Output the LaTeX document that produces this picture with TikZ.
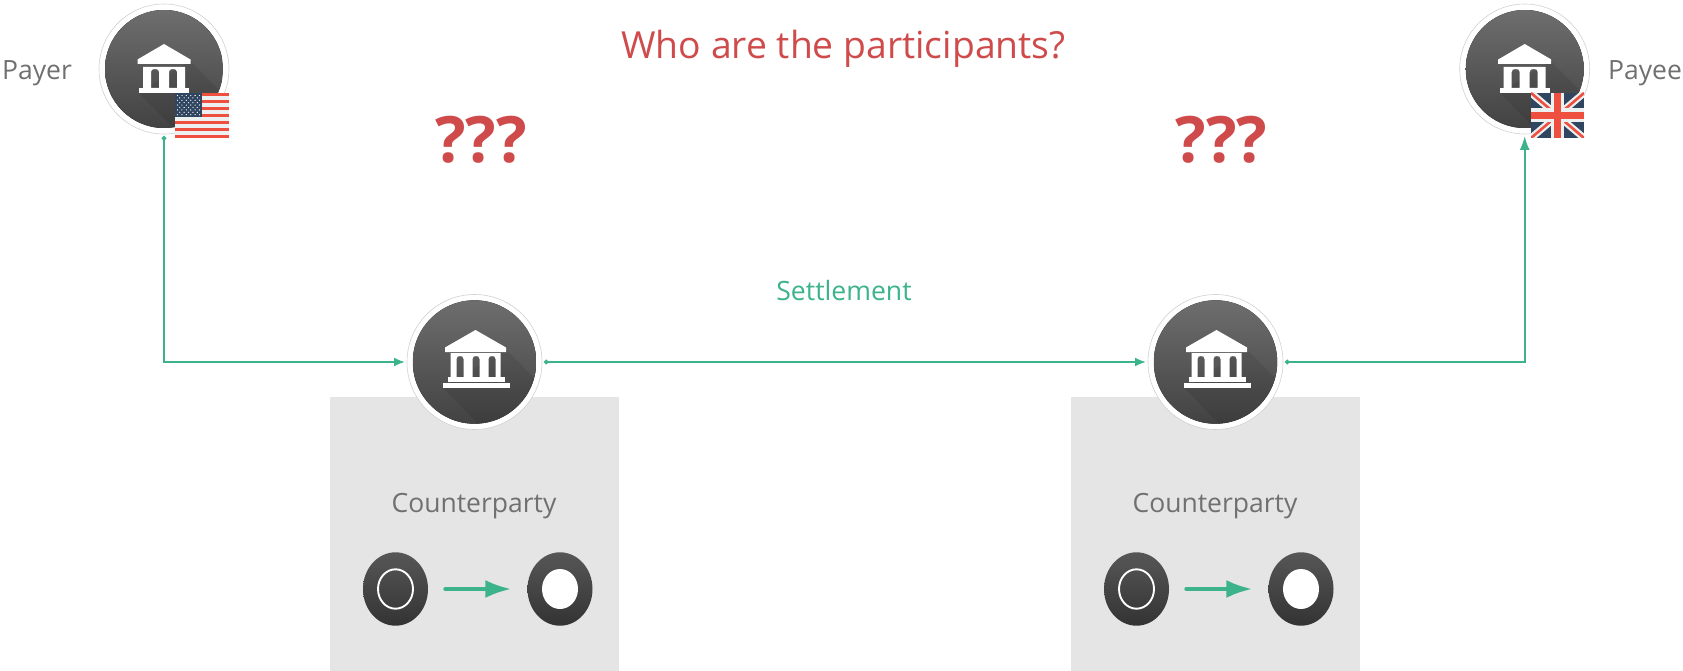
\documentclass[tikz,border=0pt]{standalone}
\usepackage{fontspec}
\setmainfont{Open Sans}
\usetikzlibrary{arrows.meta,shapes.geometric,calc}
\definecolor{linegreen}{HTML}{3CB38A}
\definecolor{txtgray}{HTML}{707070}
\definecolor{txtred}{HTML}{CF4B4B}
\definecolor{boxgray}{HTML}{E5E5E5}
\definecolor{flagred}{HTML}{EF4F3E}
\definecolor{flagblue}{HTML}{2F4560}
\definecolor{flagwhite}{HTML}{ECF0F1}
\newcommand{\archwin}[4]{% x left, x right, y top, y bottom
  (#1,#4) -- (#1,#3+3) .. controls (#1,#3+0.8) and (#1+1.5,#3) .. ({(#1+#2)/2},#3)
  .. controls (#2-1.5,#3) and (#2,#3+0.8) .. (#2,#3+3) -- (#2,#4) -- cycle}
\tikzset{
  x=1pt,y=-1pt,
  bankring/.style={circle,draw=black!18,line width=0.6pt,fill=white,inner sep=0pt,outer sep=2pt},
  disc/.style={top color=black!57,bottom color=black!74},
  label/.style={text=txtgray,font=\fontsize{26.5}{30}\selectfont,inner sep=0pt,anchor=center},
  flow/.style={draw=linegreen,line width=1.9pt},
  flowtips/.style={{Circle[length=4.5pt,width=4.5pt]}-{Latex[length=11pt,width=9pt]}},
  token/.style={ellipse,minimum width=65pt,minimum height=73.4pt,inner sep=0pt,top color=black!66,bottom color=black!80},
  smallbank/.pic={
    \begin{scope}
      \clip (0,0) circle (59);
      \fill[disc] (-59,-59) rectangle (59,59);
      \fill[black,opacity=.08] (26,-8) -- (90,56) -- (40,90) -- (-25,24) -- cycle;
    \end{scope}
    \fill[white] (0,-25) -- (26.5,-9.5) -- (26.5,-5) -- (-26.5,-5) -- (-26.5,-9.5) -- cycle;
    \fill[white,even odd rule] (-21,-2) rectangle (21,19)
      \archwin{-13}{-5}{0}{19} \archwin{5}{13}{0}{19};
    \fill[white] (-25,19) rectangle (25,24);
  },
  bigbank/.pic={
    \begin{scope}
      \clip (0,0) circle (61.7);
      \fill[disc] (-62,-62) rectangle (62,62);
      \fill[black,opacity=.08] (31,-13) -- (100,57) -- (40,100) -- (-31,26) -- cycle;
    \end{scope}
    \fill[white] (1,-32) -- (31.5,-14.5) -- (31.5,-10) -- (-29.5,-10) -- (-29.5,-14.5) -- cycle;
    \fill[white,even odd rule] (-24,-9) rectangle (26,15)
      \archwin{-18}{-11}{-6}{15} \archwin{-2}{5}{-6}{15} \archwin{14}{21}{-6}{15};
    \fill[white] (-27,15) rectangle (30,20);
    \fill[white] (-32,21) rectangle (35,26);
  },
  usflag/.pic={
    \fill[flagwhite] (0,0) rectangle (54,45);
    \foreach \i in {0,2,...,12} \fill[flagred] (0,{\i*45/13}) rectangle (54,{(\i+1)*45/13});
    \fill[flagblue] (0,0) rectangle (27,24);
    \foreach \r in {0,...,8} {
      \pgfmathtruncatemacro{\odd}{mod(\r,2)}
      \ifnum\odd=0
        \foreach \c in {0,...,5} \fill[white] ({2.5+\c*4.4},{2.5+\r*2.4}) circle (0.65);
      \else
        \foreach \c in {0,...,4} \fill[white] ({4.7+\c*4.4},{2.5+\r*2.4}) circle (0.65);
      \fi
    }
  },
  ukflag/.pic={
    \begin{scope}
      \clip (0,0) rectangle (53,45);
      \fill[flagblue] (0,0) rectangle (53,45);
      \draw[flagwhite,line width=7pt] (0,0) -- (53,45) (53,0) -- (0,45);
      \draw[flagred,line width=2.6pt] (0,0) -- (53,45) (53,0) -- (0,45);
      \fill[flagwhite] (20,0) rectangle (33,45);
      \fill[flagwhite] (0,15.5) rectangle (53,29.5);
      \fill[flagred] (23,0) rectangle (30,45);
      \fill[flagred] (0,19) rectangle (53,26);
    \end{scope}
  },
}
\begin{document}
\begin{tikzpicture}
\useasboundingbox (0,0) rectangle (1683,671);
% boxes
\fill[boxgray] (330,397) rectangle (619,671);
\fill[boxgray] (1071,397) rectangle (1360,671);
% bank nodes
\node[bankring,minimum size=130pt] (payer) at (164,69) {};
\node[bankring,minimum size=130pt] (payee) at (1524.7,69) {};
\node[bankring,minimum size=135pt] (bankA) at (474.5,362) {};
\node[bankring,minimum size=135pt] (bankB) at (1215.5,362) {};
\pic at (payer.center) {smallbank};
\pic at (payee.center) {smallbank};
\pic at (bankA.center) {bigbank};
\pic at (bankB.center) {bigbank};
\pic at (175,93) {usflag};
\pic at (1531,93) {ukflag};
% texts
\node[label] (payerlbl) at (37,73) {Payer};
\node[label] (payeelbl) at (1645,73) {Payee};
\node[text=txtred,font=\fontsize{37.3}{44}\selectfont,inner sep=0pt] (title) at (843.5,49) {Who are the participants?};
\node[text=txtred,font=\fontsize{64}{70}\selectfont\bfseries,inner sep=0pt] (qa) at (481,140) {???};
\node[text=txtred,font=\fontsize{64}{70}\selectfont\bfseries,inner sep=0pt] (qb) at (1221.5,140) {???};
\node[text=linegreen,font=\fontsize{26.6}{30}\selectfont,inner sep=0pt] (settle) at (844,291) {Settlement};
\node[label] (cpa) at (474,506) {Counterparty};
\node[label] (cpb) at (1215,506) {Counterparty};
% tokens
\foreach \n/\x in {A/395.5,B/1136.5} {
  \node[token] (open\n) at (\x,589) {};
  \draw[white,line width=1.9pt] (open\n.center) ellipse (17.5 and 19.7);
}
\foreach \n/\x in {A/560,B/1301} {
  \node[token] (full\n) at (\x,589) {};
  \fill[white] (full\n.center) ellipse (18 and 20);
}
% connectors
\draw[flow,flowtips] (payer.south) |- (bankA.west);
\draw[flow,flowtips] (bankA.east) -- (bankB.west);
\draw[flow,{Circle[length=4.5pt,width=4.5pt]}-{Latex[length=14pt,width=10pt]}] (bankB.east) -| (payee.south);
\foreach \n in {A,B}
  \draw[draw=linegreen,line width=3.8pt,line cap=round,-{Latex[length=26pt,width=18pt]},shorten <=17pt,shorten >=16pt] (open\n) -- (full\n);
\end{tikzpicture}
\end{document}
